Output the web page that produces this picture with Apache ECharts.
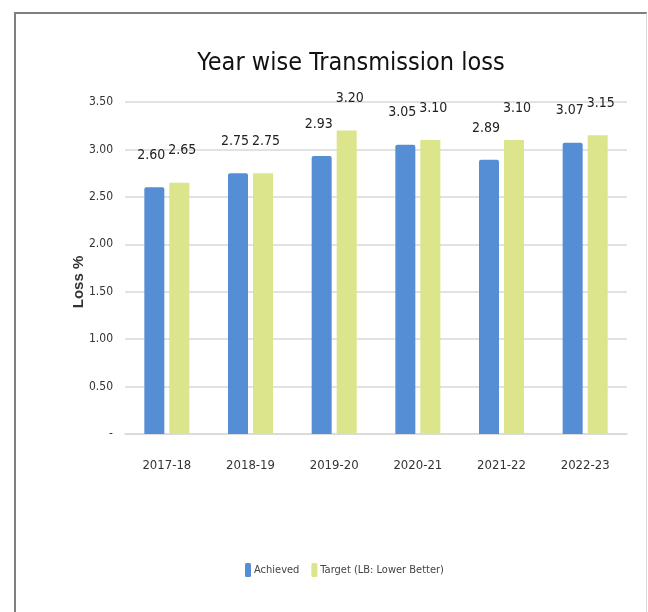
<!DOCTYPE html>
<html>
<head>
<meta charset="utf-8">
<script src="https://cdn.jsdelivr.net/npm/echarts@6/dist/echarts.min.js"></script>
<style>
  html, body { margin: 0; padding: 0; background: #fff; }
  #frame {
    position: absolute; left: 14px; top: 12px; width: 630px; height: 620px;
    border-left: 2px solid #7f7f7f; border-top: 2px solid #7f7f7f; border-right: 1px solid #d9d9d9;
    pointer-events: none;
  }
  #main { position: absolute; left: 0; top: 0; width: 648px; height: 612px; }
</style>
</head>
<body>
<div id="main"></div>
<div id="frame"></div>
<script>
  var years = ['2017-18', '2018-19', '2019-20', '2020-21', '2021-22', '2022-23'];
  var achieved = [2.60, 2.75, 2.93, 3.05, 2.89, 3.07];
  var target = [2.65, 2.75, 3.20, 3.10, 3.10, 3.15];
  var seriesNames = ['Achieved', 'Target (LB: Lower Better)'];

  var narrow = "'Liberation Sans Narrow', 'DejaVu Sans Condensed', sans-serif";

  function valueLabel(dx) {
    return {
      show: true, position: 'top', distance: 25, offset: [dx, 0],
      fontFamily: narrow, fontSize: 14, color: '#222',
      formatter: function (p) { return p.value.toFixed(2); }
    };
  }

  var chart = echarts.init(document.getElementById('main'));
  chart.setOption({
    animation: false,
    title: {
      text: 'Year wise Transmission loss',
      left: 346, top: 46, textAlign: 'center',
      textStyle: { fontFamily: narrow, fontSize: 25, fontWeight: 'normal', color: '#111' }
    },
    legend: {
      data: seriesNames,
      bottom: 30, left: 240,
      itemWidth: 6, itemHeight: 14, itemGap: 12,
      icon: 'roundRect',
      textStyle: { fontFamily: narrow, fontSize: 11, color: '#444', padding: [0, 0, 0, -2] }
    },
    grid: { left: 125, right: 21, top: 102, bottom: 178 },
    xAxis: {
      type: 'category',
      data: years,
      axisLine: { lineStyle: { color: '#d9d9d9', width: 1.5 } },
      axisTick: { show: false },
      axisLabel: { margin: 25, fontFamily: narrow, fontSize: 13, color: '#333' }
    },
    yAxis: {
      type: 'value',
      min: 0, max: 3.5, interval: 0.5,
      name: 'Loss %',
      nameLocation: 'middle',
      nameGap: 39,
      nameMoveOverlap: false,
      nameTextStyle: {
        fontFamily: 'Liberation Sans, sans-serif', fontWeight: 'bold', fontSize: 15, color: '#333',
        padding: [0, 28, 0, 0]
      },
      axisLine: { show: false },
      axisTick: { show: false },
      splitLine: { lineStyle: { color: '#d9d9d9', width: 1.5 } },
      axisLabel: {
        margin: 12, fontFamily: narrow, fontSize: 12, color: '#333',
        formatter: function (v) { return v === 0 ? '-' : v.toFixed(2); }
      }
    },
    series: [
      {
        name: seriesNames[0], type: 'bar', data: achieved,
        barWidth: 20, barGap: '25%',
        itemStyle: { color: '#558ed5', borderRadius: [2, 2, 0, 0] },
        label: valueLabel(-3)
      },
      {
        name: seriesNames[1], type: 'bar', data: target,
        barWidth: 20,
        itemStyle: { color: '#dce58c' },
        label: valueLabel(3)
      }
    ]
  });
</script>
</body>
</html>
